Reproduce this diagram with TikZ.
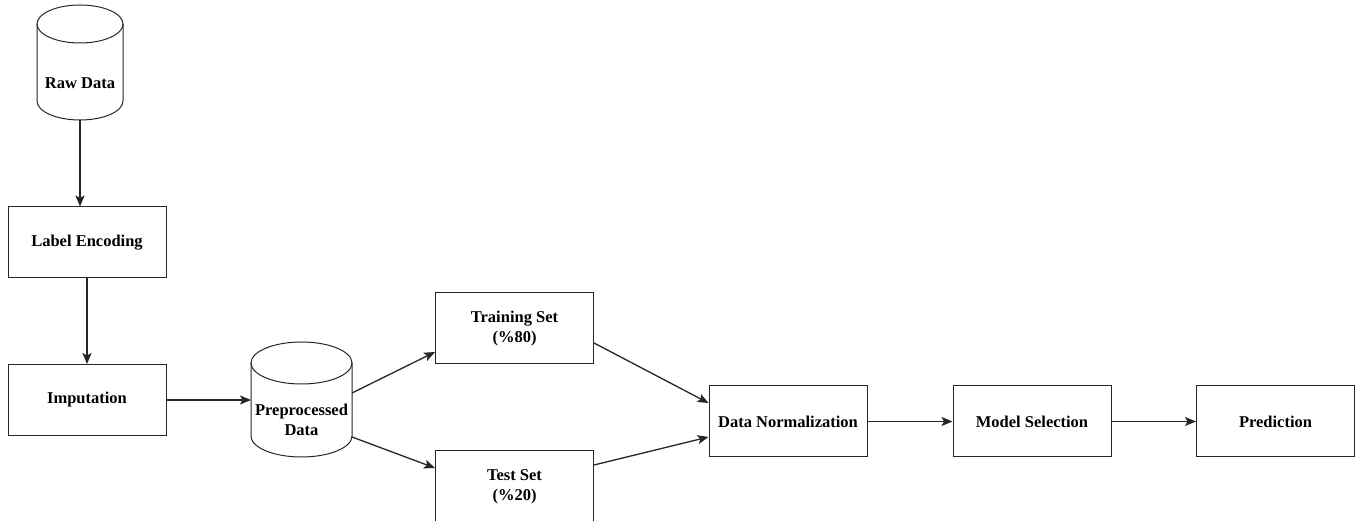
\documentclass[tikz,border=0pt]{standalone}
\usepackage{fontspec}
\setmainfont{Liberation Serif}
\usetikzlibrary{arrows.meta}

\begin{document}
\begin{tikzpicture}[x=1pt,y=1pt,>={Stealth[length=11pt,width=9pt,inset=2.5pt]},
    txt/.style={align=center,font=\bfseries\fontsize{16.5}{20}\selectfont},
    box/.style={txt,draw=black!85,line width=1pt,minimum width=158pt,minimum height=71pt},
    cyl/.style={draw=black!85,line width=1pt},
    flow/.style={->,draw=black!85,line width=1.3pt}]

    % Page with the margins of the original
    \path[fill=white] (0,0) rectangle (1362,521);
    \useasboundingbox (0,0) rectangle (1362,521);

    % Raw data cylinder
    \draw[cyl] (37,497) -- (37,420) arc (180:360:43 and 19) -- (123,497);
    \draw[cyl] (80,497) ellipse (43 and 19);
    \node[txt] (raw) at (80,438) {Raw Data};
    \coordinate (raw-b) at (80,401);   % bottom of the cylinder

    % Preprocessed data cylinder
    \draw[cyl] (251,158) -- (251,85) arc (180:360:50.5 and 21) -- (352,158);
    \draw[cyl] (301.5,158) ellipse (50.5 and 21);
    \node[txt] (pre) at (301.5,101) {Preprocessed\\Data};
    \coordinate (pre-w) at (251,121);   % left side
    \coordinate (pre-ne) at (352,128);  % right side, upper
    \coordinate (pre-se) at (352,84);   % right side, lower

    % Steps
    \node[box] (lab) at (87,278.5) {Label Encoding};
    \node[box] (imp) at (87,121) {Imputation};
    \node[box] (train) at (514.5,192.5) {Training Set\\(\%80)};
    \node[box] (test) at (514.5,34.5) {Test Set\\(\%20)};
    \node[box] (norm) at (788,99.5) {Data Normalization};
    \node[box] (model) at (1032,99.5) {Model Selection};
    \node[box] (pred) at (1275.5,99.5) {Prediction};

    % Connectors
    \draw[flow] (raw-b) -- (raw-b |- lab.north);
    \draw[flow] (lab.south) -- (imp.north);
    \draw[flow] (imp.east) -- (pre-w);
    \draw[flow] (pre-ne) -- ([yshift=-23.5pt]train.west);
    \draw[flow] (pre-se) -- ([yshift=18.5pt]test.west);
    \draw[flow] ([yshift=-14.5pt]train.east) -- ([yshift=18.5pt]norm.west);
    \draw[flow] ([yshift=21.5pt]test.east) -- ([yshift=-15.5pt]norm.west);
    \draw[flow] (norm.east) -- (model.west);
    \draw[flow] (model.east) -- (pred.west);

\end{tikzpicture}
\end{document}
